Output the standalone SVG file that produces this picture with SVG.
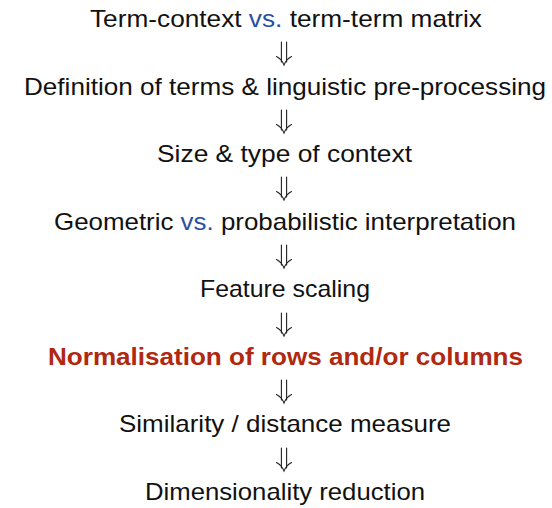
<svg xmlns="http://www.w3.org/2000/svg" width="552" height="508" viewBox="0 0 552 508">
<style>
text{font-family:"Liberation Sans","DejaVu Sans",sans-serif;font-size:24px;fill:#111;text-anchor:middle}
.b{fill:#2b4ea2}
.r{fill:#b0280f;font-weight:bold}
.arr{fill:none;stroke:#222;stroke-width:1.1;stroke-linecap:round}
</style>
<defs>
<path id="darr" class="arr" d="M-2.6,0 V20 M2.6,0 V20 M-7.5,14.5 Q-2.5,17 0,23 Q2.5,17 7.5,14.5"/>
</defs>
<rect width="552" height="508" fill="#fff"/>
<g id="n1"><text x="286" y="27" textLength="392" lengthAdjust="spacingAndGlyphs">Term-context <tspan class="b">vs.</tspan> term-term matrix</text></g>
<g id="n2"><text x="285" y="95" textLength="522" lengthAdjust="spacingAndGlyphs">Definition of terms &amp; linguistic pre-processing</text></g>
<g id="n3"><text x="284.5" y="162" textLength="255" lengthAdjust="spacingAndGlyphs">Size &amp; type of context</text></g>
<g id="n4"><text x="285" y="230" textLength="462" lengthAdjust="spacingAndGlyphs">Geometric <tspan class="b">vs.</tspan> probabilistic interpretation</text></g>
<g id="n5"><text x="285" y="297" textLength="170" lengthAdjust="spacingAndGlyphs">Feature scaling</text></g>
<g id="n6"><text class="r" x="285.5" y="365" textLength="475" lengthAdjust="spacingAndGlyphs">Normalisation of rows and/or columns</text></g>
<g id="n7"><text x="285" y="432" textLength="332" lengthAdjust="spacingAndGlyphs">Similarity / distance measure</text></g>
<g id="n8"><text x="285" y="500" textLength="280" lengthAdjust="spacingAndGlyphs">Dimensionality reduction</text></g>
<g id="connectors">
<use href="#darr" x="284" y="42"/>
<use href="#darr" x="284" y="110"/>
<use href="#darr" x="284" y="177"/>
<use href="#darr" x="284" y="245"/>
<use href="#darr" x="284" y="313"/>
<use href="#darr" x="284" y="380"/>
<use href="#darr" x="284" y="448"/>
</g>
</svg>
